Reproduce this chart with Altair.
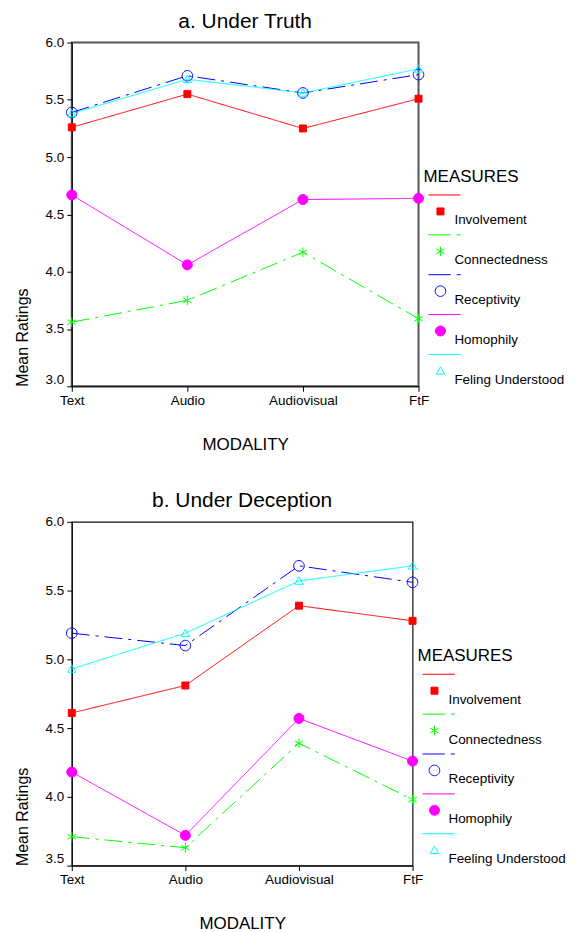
import math
import altair as alt
import pandas as pd

# ---------------- data ----------------
modalities = ["Text", "Audio", "Audiovisual", "FtF"]

measures_truth = ["Involvement", "Connectedness", "Receptivity", "Homophily", "Feling Understood"]
involvement_truth = [5.26, 5.55, 5.25, 5.51]
connectedness_truth = [3.56, 3.75, 4.17, 3.59]
receptivity_truth = [5.39, 5.71, 5.56, 5.72]
homophily_truth = [4.67, 4.06, 4.63, 4.64]
understood_truth = [5.38, 5.68, 5.56, 5.77]
ticks_truth = [3.0, 3.5, 4.0, 4.5, 5.0, 5.5, 6.0]

measures_deception = ["Involvement", "Connectedness", "Receptivity", "Homophily", "Feeling Understood"]
involvement_deception = [4.61, 4.81, 5.39, 5.28]
connectedness_deception = [3.71, 3.63, 4.39, 3.98]
receptivity_deception = [5.19, 5.10, 5.68, 5.56]
homophily_deception = [4.18, 3.72, 4.57, 4.26]
understood_deception = [4.93, 5.19, 5.57, 5.68]
ticks_deception = [3.5, 4.0, 4.5, 5.0, 5.5, 6.0]

# ---------------- styles ----------------
colors = ["#ff0000", "#00ff00", "#0000ff", "#ff00ff", "#00ffff"]
fills = ["#ff0000", "transparent", "transparent", "#ff00ff", "transparent"]
dashes = [[1, 0], [18, 6, 3, 6], [18, 6, 3, 6], [1, 0], [1, 0]]
FONT = "Liberation Sans"


def poly(pts, k, dx=0.0, dy=0.0, close=True):
    s = "M" + "L".join(f"{(x + dx) / k:.3f},{(y + dy) / k:.3f}" for x, y in pts)
    return s + ("Z" if close else "")


def circle_pts(r, n=28):
    return [(r * math.cos(2 * math.pi * i / n), r * math.sin(2 * math.pi * i / n)) for i in range(n)]


def geom_path(geom, k, dx=0.0, dy=0.0):
    return "".join(poly(p, k, dx, dy, c) for p, c in geom)


# marker geometries in pixels around the centre
square = [([(-3.5, -3.5), (3.5, -3.5), (3.5, 3.5), (-3.5, 3.5)], True)]
asterisk = [([(0, -4.8), (0, 4.8)], False),
            ([(-4.2, -2.4), (4.2, 2.4)], False),
            ([(-4.2, 2.4), (4.2, -2.4)], False)]
ring = [(circle_pts(5.3), True)]
dot = [(circle_pts(5.0), True)]
triangle = [([(0, -4.0), (4.2, 3.3), (-4.2, 3.3)], True)]
marker_geoms = [square, asterisk, ring, dot, triangle]

LINE_Y = -25.5
solid_sample = [([(-5.5, LINE_Y), (26.8, LINE_Y)], False)]
dash_sample = [([(-5.5, LINE_Y), (16.8, LINE_Y)], False), ([(22.8, LINE_Y), (26.8, LINE_Y)], False)]
sample_geoms = [solid_sample, dash_sample, dash_sample, solid_sample, solid_sample]

PT_SIZE = 144   # scale 6 px / unit
LEG_SIZE = 400  # scale 10 px / unit
marker_paths = [geom_path(g, 6) for g in marker_geoms]
legend_paths = [geom_path(s, 10) + geom_path(g, 10, 6.5, -9.0)
                for s, g in zip(sample_geoms, marker_geoms)]


def panel(title, measures, series, ticks, width, height, border_color, border_width):
    rows = []
    for m, vals in zip(measures, series):
        for i, (mod, v) in enumerate(zip(modalities, vals)):
            rows.append({"modality": mod, "step": i, "measure": m, "value": v})
    df = pd.DataFrame(rows)

    x = alt.X(
        "modality:N",
        scale=alt.Scale(type="point", domain=modalities, padding=0),
        axis=alt.Axis(
            title="MODALITY", labelAngle=0, tickSize=5, labelPadding=2, titlePadding=30,
            labelFontSize=13.5, titleFontSize=17, titleFontWeight="normal", grid=False,
            domainColor="black", tickColor="black", labelColor="black", titleColor="black",
        ),
    )
    y = alt.Y(
        "value:Q",
        scale=alt.Scale(domain=[ticks[0], ticks[-1]], nice=False, zero=False),
        axis=alt.Axis(
            values=ticks, format=".1f", title="Mean Ratings", titleAnchor="start",
            tickSize=5, labelPadding=3, titlePadding=15, labelFontSize=13.5,
            titleFontSize=16, titleFontWeight="normal", grid=False,
            domainColor="black", tickColor="black", labelColor="black", titleColor="black",
            labelBaseline={"condition": {"test": f"datum.value == {ticks[0]}", "value": "bottom"},
                           "value": "middle"},
        ),
    )

    base = alt.Chart(df)
    lines = base.mark_line(strokeWidth=1).encode(
        x=x, y=y,
        stroke=alt.Stroke("measure:N", scale=alt.Scale(domain=measures, range=colors), legend=None),
        strokeDash=alt.StrokeDash("measure:N", scale=alt.Scale(domain=measures, range=dashes), legend=None),
        order=alt.Order("step:Q"),
    )
    points = base.mark_point(size=PT_SIZE, opacity=1, strokeWidth=1).encode(
        x=x, y=y,
        shape=alt.Shape("measure:N", scale=alt.Scale(domain=measures, range=marker_paths), legend=None),
        stroke=alt.Stroke("measure:N", scale=alt.Scale(domain=measures, range=colors), legend=None),
        fill=alt.Fill("measure:N", scale=alt.Scale(domain=measures, range=fills), legend=None),
    )

    leg = alt.Legend(
        title="MEASURES", orient="none", legendX=width + 5, legendY=127,
        direction="vertical", columns=1, padding=0,
        titleFontSize=17, titleFontWeight="normal", titleColor="black", titlePadding=24,
        labelFontSize=13.5, labelColor="black", labelOffset=10, rowPadding=6,
        symbolSize=LEG_SIZE, symbolStrokeWidth=1, symbolOffset=0, labelLimit=300,
    )
    legend_layer = (
        alt.Chart(pd.DataFrame({"measure": measures}))
        .transform_filter("false")
        .mark_point(size=LEG_SIZE, opacity=1, strokeWidth=1)
        .encode(
            shape=alt.Shape("measure:N", scale=alt.Scale(domain=measures, range=legend_paths), legend=leg),
            stroke=alt.Stroke("measure:N", scale=alt.Scale(domain=measures, range=colors), legend=leg),
            fill=alt.Fill("measure:N", scale=alt.Scale(domain=measures, range=fills), legend=leg),
        )
    )

    return (
        alt.layer(lines, points, legend_layer)
        .resolve_scale(shape="independent", fill="independent", stroke="independent",
                       strokeDash="independent")
        .properties(
            width=width, height=height,
            title=alt.TitleParams(text=title, fontSize=21, fontWeight="normal", color="black",
                                  anchor="middle", frame="group", offset=4),
            view=alt.ViewBackground(stroke=border_color, strokeWidth=border_width),
        )
    )


top = panel("a. Under Truth", measures_truth,
            [involvement_truth, connectedness_truth, receptivity_truth, homophily_truth, understood_truth],
            ticks_truth, 348, 345, "#555555", 2)
bottom = panel("b. Under Deception", measures_deception,
               [involvement_deception, connectedness_deception, receptivity_deception,
                homophily_deception, understood_deception],
               ticks_deception, 342, 345, "#111111", 1.2)

chart = (
    alt.vconcat(top, bottom, spacing=35)
    .resolve_scale(x="independent", y="independent", shape="independent", fill="independent",
                   stroke="independent", strokeDash="independent")
    .properties(padding={"left": 5, "top": 0, "right": 0, "bottom": 0})
    .configure(font=FONT, background="white")
)

chart.save("out.html", embed_options={"renderer": "svg", "actions": False})
